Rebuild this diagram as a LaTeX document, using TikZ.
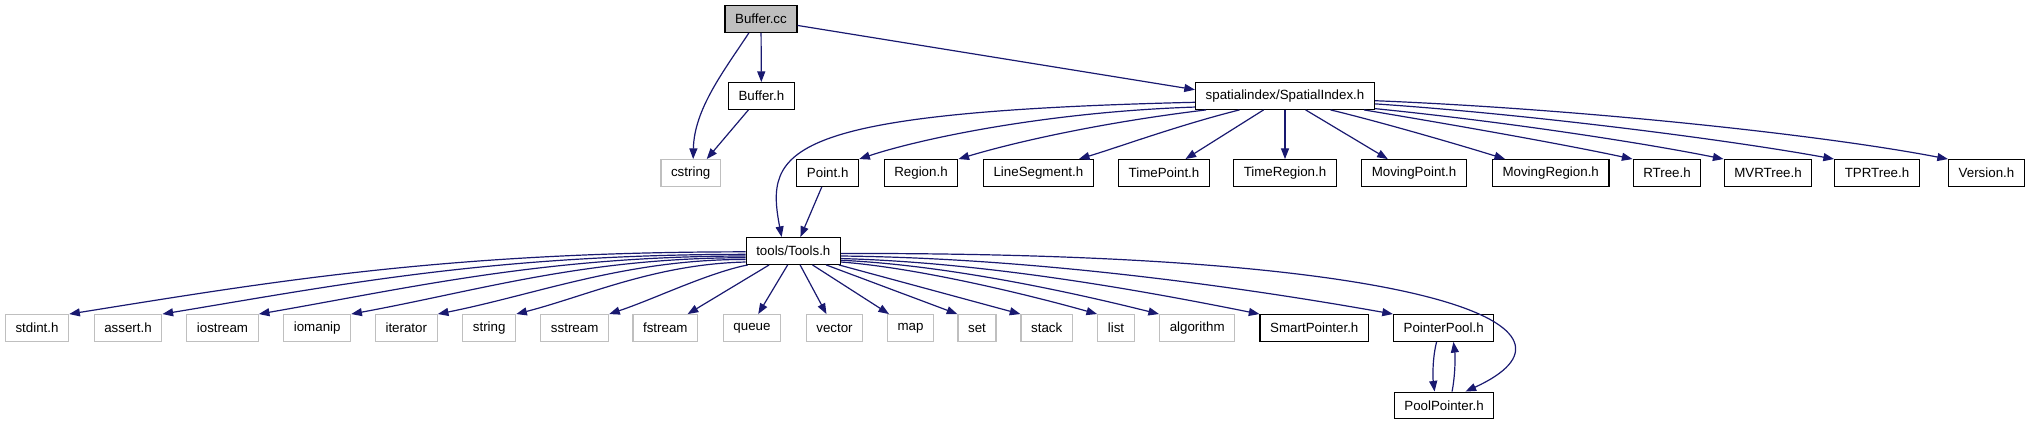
\documentclass[tikz,border=0pt]{standalone}
\usepackage{fontspec}
\setmainfont{Liberation Sans}
\usetikzlibrary{arrows.meta}
\definecolor{depblue}{HTML}{191970}
\definecolor{sysgray}{HTML}{BFBFBF}
\begin{document}
\begin{tikzpicture}[
    x=0.75pt, y=-0.75pt,
    file/.style={draw=black, line width=0.9pt, minimum height=20pt, inner xsep=7.6pt, inner ysep=0pt, font=\fontsize{10}{12}\selectfont},
    sys/.style={file, draw=sysgray},
    main/.style={file, fill=sysgray},
    dep/.style={draw=depblue, line width=0.9pt, -{Triangle[length=8pt,width=6pt]}}
  ]
  \useasboundingbox (0,0) rectangle (2031,427);
  % top
  \node[main] (cc) at (761,19) {Buffer.cc};
  \node[file] (bufh) at (761.4,96) {Buffer.h};
  \node[file] (si) at (1285,96) {spatialindex/SpatialIndex.h};
  % row of headers under SpatialIndex.h
  \node[sys] (cstr) at (690.7,173) {cstring};
  \node[file] (point) at (827.7,173) {Point.h};
  \node[file] (region) at (921,173) {Region.h};
  \node[file] (lineseg) at (1038.4,173) {LineSegment.h};
  \node[file] (tpoint) at (1164,173) {TimePoint.h};
  \node[file] (tregion) at (1285,173) {TimeRegion.h};
  \node[file] (mpoint) at (1414,173) {MovingPoint.h};
  \node[file] (mregion) at (1550.7,173) {MovingRegion.h};
  \node[file] (rtree) at (1667,173) {RTree.h};
  \node[file] (mvrtree) at (1768,173) {MVRTree.h};
  \node[file] (tprtree) at (1877,173) {TPRTree.h};
  \node[file] (version) at (1986.5,173) {Version.h};
  \node[file] (tools) at (793.3,251) {tools/Tools.h};
  % row of headers under Tools.h
  \node[sys] (stdint) at (37,328) {stdint.h};
  \node[sys] (assert) at (128,328) {assert.h};
  \node[sys] (iostream) at (222.5,328) {iostream};
  \node[sys] (iomanip) at (317.2,328) {iomanip};
  \node[sys] (iterator) at (406.3,328) {iterator};
  \node[sys] (string) at (489.2,328) {string};
  \node[sys] (sstream) at (574.7,328) {sstream};
  \node[sys] (fstream) at (665.3,328) {fstream};
  \node[sys] (queue) at (752,328) {queue};
  \node[sys] (vector) at (834.5,328) {vector};
  \node[sys] (map) at (910.5,328) {map};
  \node[sys] (set) at (977,328) {set};
  \node[sys] (stack) at (1046.7,328) {stack};
  \node[sys] (list) at (1116,328) {list};
  \node[sys] (algorithm) at (1197.2,328) {algorithm};
  \node[file] (smartptr) at (1314.3,328) {SmartPointer.h};
  \node[file] (ptrpool) at (1443.7,328) {PointerPool.h};
  \node[file] (poolptr) at (1444,405.5) {PoolPointer.h};

  % Buffer.cc and Buffer.h
  \draw[dep] (cc.229) .. controls +(-25,38) and +(1,-50) .. (cstr.80);
  \draw[dep] (cc) -- (bufh);
  \draw[dep] (cc.350.7) -- (si.176);
  \draw[dep] (bufh.227) -- (cstr.41);

  % SpatialIndex.h
  \draw[dep] (si.184.4) .. controls (780,112) and (765,150) .. (tools.130);
  \draw[dep] (si.187) .. controls +(-150,5) and +(60,-20) .. (point.north east);
  \draw[dep] (si.190.9) .. controls +(-100,12) and +(60,-18) .. (region.north east);
  \draw[dep] (si.197.6) .. controls +(-60,15) and +(40,-12) .. (lineseg.19);
  \draw[dep] (si.213.6) -- (tpoint.33);
  \draw[dep] (si) -- (tregion);
  \draw[dep] (si.326.4) -- (mpoint.152);
  \draw[dep] (si.343.5) .. controls +(50,12) and +(-45,-14) .. (mregion.163);
  \draw[dep] (si.350.6) .. controls +(90,15) and +(-70,-15) .. (rtree.north west);
  \draw[dep] (si.352) .. controls +(120,12) and +(-90,-18) .. (mvrtree.north west);
  \draw[dep] (si.355) .. controls +(150,10) and +(-110,-20) .. (tprtree.north west);
  \draw[dep] (si.357.5) .. controls +(200,8) and +(-130,-25) .. (version.north west);
  \draw[dep] (point.247) -- (tools.63);

  % Tools.h
  \draw[dep] (tools.181) .. controls +(-300,0) and +(200,-32) .. (stdint.north east);
  \draw[dep] (tools.184) .. controls +(-250,0) and +(180,-30) .. (assert.north east);
  \draw[dep] (tools.186) .. controls +(-200,0) and +(150,-26) .. (iostream.north east);
  \draw[dep] (tools.188.3) .. controls +(-160,0) and +(130,-24) .. (iomanip.north east);
  \draw[dep] (tools.190.7) .. controls +(-120,0) and +(100,-20) .. (iterator.north east);
  \draw[dep] (tools.193) .. controls +(-90,2) and +(70,-18) .. (string.north east);
  \draw[dep] (tools.197) .. controls +(-40,8) and +(45,-15) .. (sstream.north east);
  \draw[dep] (tools.210.8) -- (fstream.32);
  \draw[dep] (tools.248) -- (queue.66);
  \draw[dep] (tools.296.7) -- (vector.120);
  \draw[dep] (tools.324.6) -- (map.147);
  \draw[dep] (tools.337.9) -- (set.north west);
  \draw[dep] (tools.343.4) -- (stack.north west);
  \draw[dep] (tools.347) .. controls +(80,6) and +(-60,-17) .. (list.north west);
  \draw[dep] (tools.349.3) .. controls +(110,5) and +(-80,-20) .. (algorithm.north west);
  \draw[dep] (tools.351.7) .. controls +(150,4) and +(-110,-22) .. (smartptr.north west);
  \draw[dep] (tools.354) .. controls +(200,2) and +(-140,-25) .. (ptrpool.north west);
  \draw[dep] (tools.357.6) .. controls (1450,252) and (1600,330) .. (poolptr.33);

  % PointerPool.h and PoolPointer.h
  \draw[dep] (ptrpool.243) .. controls +(-4,15) and +(-2,-15) .. (poolptr.124);
  \draw[dep] (poolptr.60) .. controls +(3,-15) and +(2,15) .. (ptrpool.305);
\end{tikzpicture}
\end{document}
